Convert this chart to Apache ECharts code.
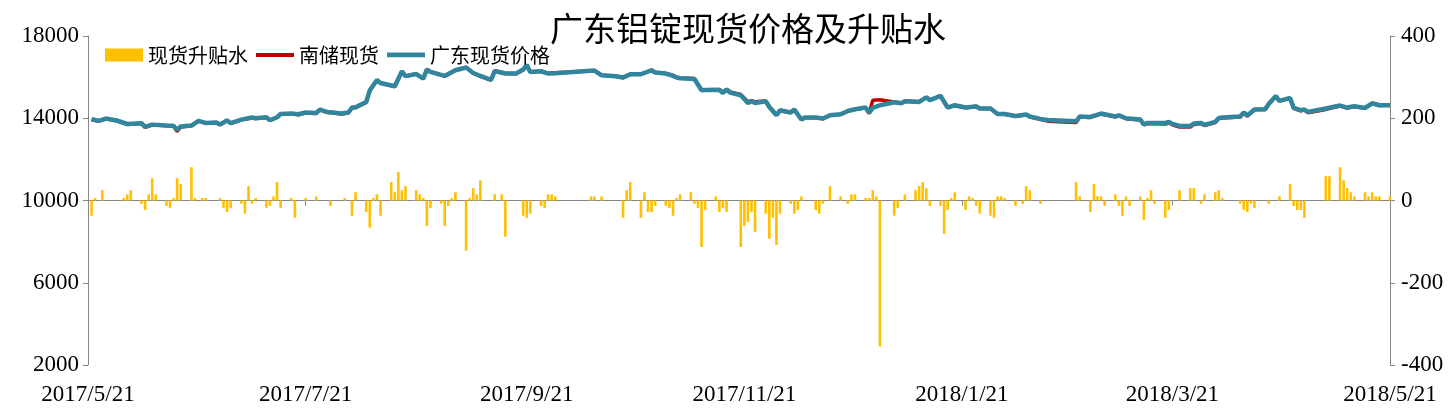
<!DOCTYPE html>
<html><head><meta charset="utf-8">
<script src="https://cdn.jsdelivr.net/npm/echarts@6/dist/echarts.min.js"></script>
<style>html,body{margin:0;padding:0;background:#fff}#c{width:1456px;height:410px}</style>
</head><body><div id="c"></div>
<script>
const titleText = '广东铝锭现货价格及升贴水';
const seriesNames = ['现货升贴水', '南储现货', '广东现货价格'];
const startDate = '2017-05-21';
const endDate = '2018-05-21';
const xTickDates = ['2017-05-21','2017-07-21','2017-09-21','2017-11-21','2018-01-21','2018-03-21','2018-05-21'];
const leftTicks = [2000, 6000, 10000, 14000, 18000];
const rightTicks = [-400, -200, 0, 200, 400];

// 现货升贴水 (right axis)
const spreadDates = [
'2017-05-22','2017-05-23','2017-05-25','2017-05-31','2017-06-01','2017-06-02','2017-06-05','2017-06-06','2017-06-07','2017-06-08',
'2017-06-09','2017-06-12','2017-06-13','2017-06-14','2017-06-15','2017-06-16','2017-06-19','2017-06-20','2017-06-22','2017-06-23',
'2017-06-27','2017-06-28','2017-06-29','2017-06-30','2017-07-03','2017-07-04','2017-07-05','2017-07-06','2017-07-07','2017-07-10',
'2017-07-11','2017-07-12','2017-07-13','2017-07-14','2017-07-17','2017-07-18','2017-07-21','2017-07-24','2017-07-28','2017-08-01',
'2017-08-03','2017-08-04','2017-08-07','2017-08-08','2017-08-09','2017-08-10','2017-08-11','2017-08-14','2017-08-15','2017-08-16',
'2017-08-17','2017-08-18','2017-08-21','2017-08-22','2017-08-23','2017-08-24','2017-08-25','2017-08-28','2017-08-29','2017-08-30',
'2017-08-31','2017-09-01','2017-09-04','2017-09-05','2017-09-06','2017-09-07','2017-09-08','2017-09-12','2017-09-14','2017-09-15',
'2017-09-20','2017-09-21','2017-09-22','2017-09-25','2017-09-26','2017-09-27','2017-09-28','2017-09-29','2017-10-09','2017-10-10',
'2017-10-12','2017-10-18','2017-10-19','2017-10-20','2017-10-23','2017-10-24','2017-10-25','2017-10-26','2017-10-27','2017-10-30',
'2017-10-31','2017-11-01','2017-11-02','2017-11-03','2017-11-06','2017-11-07','2017-11-08','2017-11-09','2017-11-10','2017-11-13',
'2017-11-14','2017-11-15','2017-11-16','2017-11-20','2017-11-21','2017-11-22','2017-11-23','2017-11-24','2017-11-27','2017-11-28',
'2017-11-29','2017-11-30','2017-12-01','2017-12-04','2017-12-05','2017-12-06','2017-12-07','2017-12-11','2017-12-12','2017-12-13',
'2017-12-15','2017-12-18','2017-12-20','2017-12-21','2017-12-22','2017-12-25','2017-12-26','2017-12-27','2017-12-28','2017-12-29',
'2018-01-02','2018-01-03','2018-01-05','2018-01-08','2018-01-09','2018-01-10','2018-01-11','2018-01-12','2018-01-15','2018-01-16',
'2018-01-17','2018-01-18','2018-01-19','2018-01-22','2018-01-23','2018-01-24','2018-01-25','2018-01-26','2018-01-29','2018-01-30',
'2018-01-31','2018-02-01','2018-02-02','2018-02-05','2018-02-07','2018-02-08','2018-02-09','2018-02-12','2018-02-22','2018-02-23',
'2018-02-26','2018-02-27','2018-02-28','2018-03-01','2018-03-02','2018-03-05','2018-03-06','2018-03-07','2018-03-08','2018-03-09',
'2018-03-12','2018-03-13','2018-03-14','2018-03-15','2018-03-16','2018-03-19','2018-03-20','2018-03-23','2018-03-26','2018-03-27',
'2018-03-29','2018-03-30','2018-04-02','2018-04-03','2018-04-04','2018-04-09','2018-04-10','2018-04-11','2018-04-12','2018-04-13',
'2018-04-17','2018-04-20','2018-04-23','2018-04-24','2018-04-25','2018-04-26','2018-04-27','2018-05-03','2018-05-04','2018-05-07',
'2018-05-08','2018-05-09','2018-05-10','2018-05-11','2018-05-14','2018-05-15','2018-05-16','2018-05-17','2018-05-18','2018-05-21'
];
const spreadValues = [
-37,6,25,6,15,25,-8,-23,15,54,
15,-13,-18,6,54,40,81,6,6,6,
6,-18,-28,-18,-8,-32,35,-8,6,-18,
-13,10,45,-18,6,-42,6,10,-13,6,
-37,20,-28,-66,6,15,-37,45,20,69,
25,35,25,15,6,-62,-18,-8,-62,-13,
6,20,-122,6,30,15,49,15,15,-88,
-37,-42,-32,-13,-18,15,15,10,10,10,
10,-42,25,45,-42,20,-28,-28,-13,-13,
-18,-37,6,15,20,-8,-18,-113,-23,10,
-28,-18,-28,-113,-62,-52,-28,-76,-32,-93,
-42,-108,-32,-8,-32,-23,10,-23,-32,-8,
35,10,-8,15,15,6,6,25,10,-355,
-37,-18,15,25,35,45,30,-13,-13,-81,
-23,6,20,-23,10,6,-13,-32,-37,-42,
10,10,6,-13,-8,35,25,-8,45,10,
-28,40,10,10,-13,15,-13,-37,10,-13,
10,-47,6,25,-8,-42,-23,25,30,30,
-8,15,20,25,6,-8,-23,-28,-8,-18,
-8,10,40,-13,-23,-23,-42,59,59,81,
49,30,20,10,20,10,20,10,10,10
];

// 南储现货 / 广东现货价格 (left axis)
const priceDates = [
'2017-05-22','2017-05-24','2017-05-26','2017-05-29','2017-06-01','2017-06-05','2017-06-06','2017-06-08','2017-06-12','2017-06-14',
'2017-06-15','2017-06-16','2017-06-19','2017-06-21','2017-06-23','2017-06-26','2017-06-27','2017-06-29','2017-06-30','2017-07-03',
'2017-07-06','2017-07-07','2017-07-10','2017-07-11','2017-07-13','2017-07-14','2017-07-17','2017-07-19','2017-07-21','2017-07-24',
'2017-07-25','2017-07-27','2017-07-28','2017-07-31','2017-08-02','2017-08-03','2017-08-04','2017-08-07','2017-08-08','2017-08-10',
'2017-08-11','2017-08-15','2017-08-17','2017-08-18','2017-08-21','2017-08-23','2017-08-24','2017-08-25','2017-08-29','2017-09-01',
'2017-09-04','2017-09-06','2017-09-08','2017-09-11','2017-09-12','2017-09-15','2017-09-18','2017-09-20','2017-09-21','2017-09-22',
'2017-09-25','2017-09-27','2017-09-29','2017-10-10','2017-10-12','2017-10-16','2017-10-18','2017-10-20','2017-10-23','2017-10-26',
'2017-10-27','2017-10-30','2017-11-01','2017-11-02','2017-11-03','2017-11-07','2017-11-09','2017-11-10','2017-11-14','2017-11-15',
'2017-11-16','2017-11-17','2017-11-20','2017-11-22','2017-11-23','2017-11-24','2017-11-27','2017-11-28','2017-11-30','2017-12-01',
'2017-12-04','2017-12-05','2017-12-07','2017-12-08','2017-12-11','2017-12-13','2017-12-15','2017-12-18','2017-12-20','2017-12-22',
'2017-12-25','2017-12-26','2017-12-27','2017-12-29','2018-01-02','2018-01-04','2018-01-05','2018-01-09','2018-01-11','2018-01-12',
'2018-01-15','2018-01-17','2018-01-19','2018-01-22','2018-01-25','2018-01-26','2018-01-29','2018-01-31','2018-02-02','2018-02-05',
'2018-02-08','2018-02-09','2018-02-12','2018-02-14','2018-02-22','2018-02-23','2018-02-26','2018-03-01','2018-03-05','2018-03-06',
'2018-03-08','2018-03-12','2018-03-13','2018-03-14','2018-03-19','2018-03-20','2018-03-21','2018-03-23','2018-03-26','2018-03-27',
'2018-03-29','2018-03-30','2018-04-02','2018-04-03','2018-04-04','2018-04-09','2018-04-10','2018-04-11','2018-04-13','2018-04-16',
'2018-04-17','2018-04-19','2018-04-20','2018-04-23','2018-04-24','2018-04-26','2018-04-27','2018-04-28','2018-05-03','2018-05-07',
'2018-05-09','2018-05-11','2018-05-14','2018-05-16','2018-05-18','2018-05-21'
];
const gdPrice = [
13950,13870,13985,13890,13720,13760,13580,13690,13645,13630,
13430,13600,13645,13870,13775,13790,13695,13890,13760,13935,
14035,14000,14050,13905,14050,14210,14230,14195,14277,14258,
14423,14306,14290,14229,14277,14520,14535,14793,15362,15863,
15717,15556,16286,16050,16150,15930,16368,16252,16057,16334,
16465,16203,16057,15863,16300,16174,16174,16368,16592,16252,
16286,16174,16190,16320,16091,16042,15979,16140,16140,16334,
16223,16174,16057,15979,15945,15911,15362,15376,15376,15230,
15396,15250,15118,14744,14827,14744,14827,14550,14146,14389,
14277,14423,13937,14034,14034,13985,14146,14195,14355,14438,
14520,14277,14501,14632,14778,14729,14827,14793,15021,14875,
15084,14520,14632,14520,14569,14472,14472,14209,14209,14112,
14180,14083,13966,13917,13854,14083,14063,14229,14083,14146,
14000,13937,13694,13773,13773,13820,13723,13627,13627,13742,
13773,13674,13820,14015,14034,14083,14277,14131,14423,14438,
14695,15084,14841,14987,14501,14389,14423,14306,14472,14617,
14520,14584,14501,14729,14632,14632
];
const ncPrice = [
13930,13860,13970,13880,13700,13750,13560,13680,13640,13610,
13360,13580,13630,13860,13760,13780,13680,13900,13750,13920,
14010,13990,14040,13890,14040,14200,14220,14170,14260,14230,
14410,14290,14270,14210,14260,14500,14520,14770,15340,15850,
15700,15540,16270,16040,16160,15940,16380,16260,16050,16340,
16480,16190,16040,15850,16310,16190,16160,16350,16560,16260,
16290,16190,16210,16310,16090,16040,15970,16130,16150,16340,
16240,16180,16090,16000,15960,15930,15380,15390,15400,15260,
15410,15280,15160,14800,14860,14800,14840,14570,14160,14380,
14270,14410,13930,14020,14030,13970,14140,14190,14350,14430,
14510,14220,14880,14900,14790,14740,14840,14800,15010,14880,
15090,14540,14620,14510,14580,14480,14470,14200,14190,14090,
14170,14070,13950,13860,13790,14060,14040,14210,14070,14130,
13980,13920,13680,13750,13720,13780,13680,13570,13570,13700,
13740,13650,13790,13990,14010,14060,14250,14100,14420,14430,
14690,15070,14830,14970,14480,14360,14400,14270,14430,14590,
14500,14570,14490,14720,14620,14630
];

// calendar-day categories for a proportional date axis
function pad(n){ return (n < 10 ? '0' : '') + n; }
const dayCats = [];
(function(){
  const s = new Date(startDate + 'T00:00:00Z'), e = new Date(endDate + 'T00:00:00Z');
  for (let t = s.getTime(); t <= e.getTime(); t += 86400000) {
    const d = new Date(t);
    dayCats.push(d.getUTCFullYear() + '-' + pad(d.getUTCMonth() + 1) + '-' + pad(d.getUTCDate()));
  }
})();
const tickSet = new Set(xTickDates);
const fmtDate = v => { const p = v.split('-'); return p[0] + '/' + (+p[1]) + '/' + (+p[2]); };
const fmtNum = v => String(v);

const zip = (a, b) => a.map((d, i) => [d, b[i]]);

const axisGray = '#868686';
const serif = '"Liberation Serif", "Times New Roman", serif';
const cjk = '"Noto Sans CJK SC", sans-serif';

const chart = echarts.init(document.getElementById('c'), null, {renderer: 'canvas'});
chart.setOption({
  animation: false,
  backgroundColor: '#fff',
  title: {
    text: titleText, left: 545, top: 7,
    textStyle: {fontFamily: cjk, fontSize: 33, fontWeight: 'normal', color: '#000'}
  },
  legend: {
    left: 100, top: 40, itemWidth: 38, itemHeight: 13, itemGap: 8,
    textStyle: {fontFamily: cjk, fontSize: 20, color: '#000'},
    data: [
      {name: seriesNames[0], icon: 'rect'},
      {name: seriesNames[1], icon: 'path://M0,0H40V4H0Z'},
      {name: seriesNames[2], icon: 'path://M0,0H40V5H0Z'}
    ]
  },
  grid: {left: 88, right: 66, top: 36, bottom: 45, containLabel: false},
  xAxis: {
    type: 'category', data: dayCats, boundaryGap: false,
    axisLine: {lineStyle: {color: axisGray, width: 1}},
    axisTick: {show: true, interval: (i, v) => tickSet.has(v), length: 5, lineStyle: {color: axisGray}},
    axisLabel: {interval: (i, v) => tickSet.has(v), formatter: fmtDate, margin: 18,
      fontFamily: serif, fontSize: 23, color: '#000', showMinLabel: true, showMaxLabel: true},
    splitLine: {show: false}
  },
  yAxis: [
    {type: 'value', min: 2000, max: 18000, interval: 4000, position: 'left',
     axisLine: {show: true, lineStyle: {color: axisGray}},
     axisTick: {show: true, inside: false, length: 5, lineStyle: {color: axisGray}, customValues: leftTicks},
     axisLabel: {fontFamily: serif, fontSize: 23, color: '#000', margin: 9, customValues: leftTicks, formatter: fmtNum},
     splitLine: {show: false}},
    {type: 'value', min: -400, max: 400, interval: 200, position: 'right',
     axisLine: {show: true, lineStyle: {color: axisGray}},
     axisTick: {show: true, inside: false, length: 5, lineStyle: {color: axisGray}, customValues: rightTicks},
     axisLabel: {fontFamily: serif, fontSize: 23, color: '#000', margin: 11, customValues: rightTicks, formatter: fmtNum},
     splitLine: {show: false}}
  ],
  series: [
    {name: seriesNames[0], type: 'bar', yAxisIndex: 1, barWidth: 2.6,
     itemStyle: {color: '#FFC000'}, data: zip(spreadDates, spreadValues), z: 1},
    {name: seriesNames[1], type: 'line', yAxisIndex: 0, symbol: 'none',
     lineStyle: {color: '#C00000', width: 3.5}, itemStyle: {color: '#C00000'},
     data: zip(priceDates, ncPrice), z: 2},
    {name: seriesNames[2], type: 'line', yAxisIndex: 0, symbol: 'none',
     lineStyle: {color: '#31859C', width: 4.5}, itemStyle: {color: '#31859C'},
     data: zip(priceDates, gdPrice), z: 3}
  ]
});
</script>
</body></html>
